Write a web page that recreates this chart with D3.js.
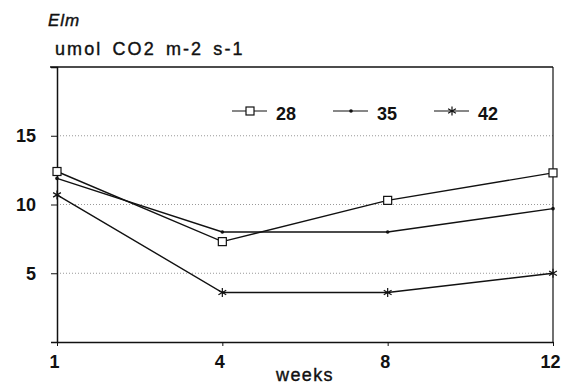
<!DOCTYPE html>
<html>
<head>
<meta charset="utf-8">
<script src="https://cdn.jsdelivr.net/npm/d3@7"></script>
<style>
  body { margin: 0; background: #fff; }
  svg text { font-family: "Liberation Sans", Arial, sans-serif; fill: #111; }
</style>
</head>
<body>
<div id="chart"></div>
<script>
// Data
const weeks = ['1', '4', '8', '12'];
const s28 = [12.4, 7.3, 10.3, 12.3];
const s35 = [11.9, 8.0, 8.0, 9.7];
const s42 = [10.7, 3.6, 3.6, 5.0];
const seriesNames = ['28', '35', '42'];
const yTicks = [5, 10, 15];

const width = 569, height = 385;
const margin = { top: 67, right: 16, bottom: 43, left: 57 };
const w = width - margin.left - margin.right;
const h = height - margin.top - margin.bottom;
const labelFont = '18px';

const svg = d3.select('#chart').append('svg')
    .attr('width', width)
    .attr('height', height);

const g = svg.append('g')
    .attr('transform', `translate(${margin.left},${margin.top})`);

const x = d3.scalePoint().domain(weeks).range([0, w]);
const y = d3.scaleLinear().domain([0, 20]).range([h, 0]);

// Dotted gridlines
g.append('g')
    .selectAll('line')
    .data(yTicks)
    .enter()
    .append('line')
    .attr('x1', 0)
    .attr('x2', w)
    .attr('y1', d => y(d))
    .attr('y2', d => y(d))
    .attr('stroke', '#999')
    .attr('stroke-width', 1)
    .attr('stroke-dasharray', '1,2');

// Frame: top and right
g.append('line')
    .attr('x1', -7).attr('x2', w)
    .attr('y1', 0).attr('y2', 0)
    .attr('stroke', '#111').attr('stroke-width', 1.5);
g.append('line')
    .attr('x1', w).attr('x2', w)
    .attr('y1', 0).attr('y2', h)
    .attr('stroke', '#111').attr('stroke-width', 1.2);

// Axes
const yAxis = d3.axisLeft(y).tickValues(yTicks).tickSize(6).tickPadding(15);
const yG = g.append('g').call(yAxis);
yG.select('.domain').attr('stroke', '#111').attr('stroke-width', 1.5);
yG.selectAll('.tick line').attr('stroke', '#111');
yG.selectAll('.tick text')
    .attr('font-size', labelFont)
    .attr('font-family', '"Liberation Sans", Arial, sans-serif')
    .attr('font-weight', 'bold')
    .attr('fill', '#111');

const xAxis = d3.axisBottom(x).tickSize(4).tickPadding(9).tickSizeOuter(0);
const xG = g.append('g').attr('transform', `translate(0,${h})`).call(xAxis);
xG.select('.domain').attr('stroke', '#111').attr('stroke-width', 1.5);
xG.selectAll('.tick line').attr('stroke', '#111');
xG.selectAll('.tick text')
    .attr('font-size', labelFont)
    .attr('font-family', '"Liberation Sans", Arial, sans-serif')
    .attr('font-weight', 'bold')
    .attr('fill', '#111')
    .attr('dx', '-3px');

// Series lines
const series = [
    { name: seriesNames[0], values: s28, marker: 'square' },
    { name: seriesNames[1], values: s35, marker: 'dot' },
    { name: seriesNames[2], values: s42, marker: 'star' }
];

const line = d3.line()
    .x((d, i) => x(weeks[i]))
    .y(d => y(d));

function drawMarker(sel, type, cx, cy) {
    if (type === 'square') {
        sel.append('rect')
            .attr('x', cx - 4).attr('y', cy - 4)
            .attr('width', 8).attr('height', 8)
            .attr('fill', '#fff')
            .attr('stroke', '#111').attr('stroke-width', 1.2);
    } else if (type === 'dot') {
        sel.append('circle')
            .attr('cx', cx).attr('cy', cy).attr('r', 1.8)
            .attr('fill', '#111');
    } else {
        const r = 4.5;
        const star = sel.append('g').attr('stroke', '#111').attr('stroke-width', 1.2);
        [0, 60, 120].forEach(a => {
            const rad = a * Math.PI / 180;
            star.append('line')
                .attr('x1', cx + r * Math.sin(rad)).attr('y1', cy - r * Math.cos(rad))
                .attr('x2', cx - r * Math.sin(rad)).attr('y2', cy + r * Math.cos(rad));
        });
    }
}

series.forEach(s => {
    g.append('path')
        .datum(s.values)
        .attr('d', line)
        .attr('fill', 'none')
        .attr('stroke', '#111')
        .attr('stroke-width', 1.4);
    const mg = g.append('g');
    s.values.forEach((v, i) => drawMarker(mg, s.marker, x(weeks[i]), y(v)));
});

// Legend
const legendX = [232, 333, 434];
const legendY = 111;
series.forEach((s, i) => {
    const lg = svg.append('g');
    lg.append('line')
        .attr('x1', legendX[i]).attr('x2', legendX[i] + 35)
        .attr('y1', legendY).attr('y2', legendY)
        .attr('stroke', '#111').attr('stroke-width', 1.2);
    drawMarker(lg, s.marker, legendX[i] + 18, legendY);
    lg.append('text')
        .attr('x', legendX[i] + 44)
        .attr('y', legendY + 9)
        .attr('font-size', labelFont)
        .attr('font-weight', 'bold')
        .text(s.name);
});

// Titles
svg.append('text')
    .attr('x', 48).attr('y', 26)
    .attr('font-size', '17px')
    .attr('font-style', 'italic')
    .attr('letter-spacing', '1px')
    .attr('stroke', '#111').attr('stroke-width', 0.4)
    .text('Elm');

svg.append('text')
    .attr('x', 55).attr('y', 55)
    .attr('font-size', '18px')
    .attr('letter-spacing', '2.1px')
    .attr('word-spacing', '3px')
    .attr('stroke', '#111').attr('stroke-width', 0.4)
    .text('umol CO2 m-2 s-1');

svg.append('text')
    .attr('x', 305).attr('y', 381)
    .attr('text-anchor', 'middle')
    .attr('font-size', '18px')
    .attr('letter-spacing', '1.4px')
    .attr('stroke', '#111').attr('stroke-width', 0.4)
    .text('weeks');
</script>
</body>
</html>
